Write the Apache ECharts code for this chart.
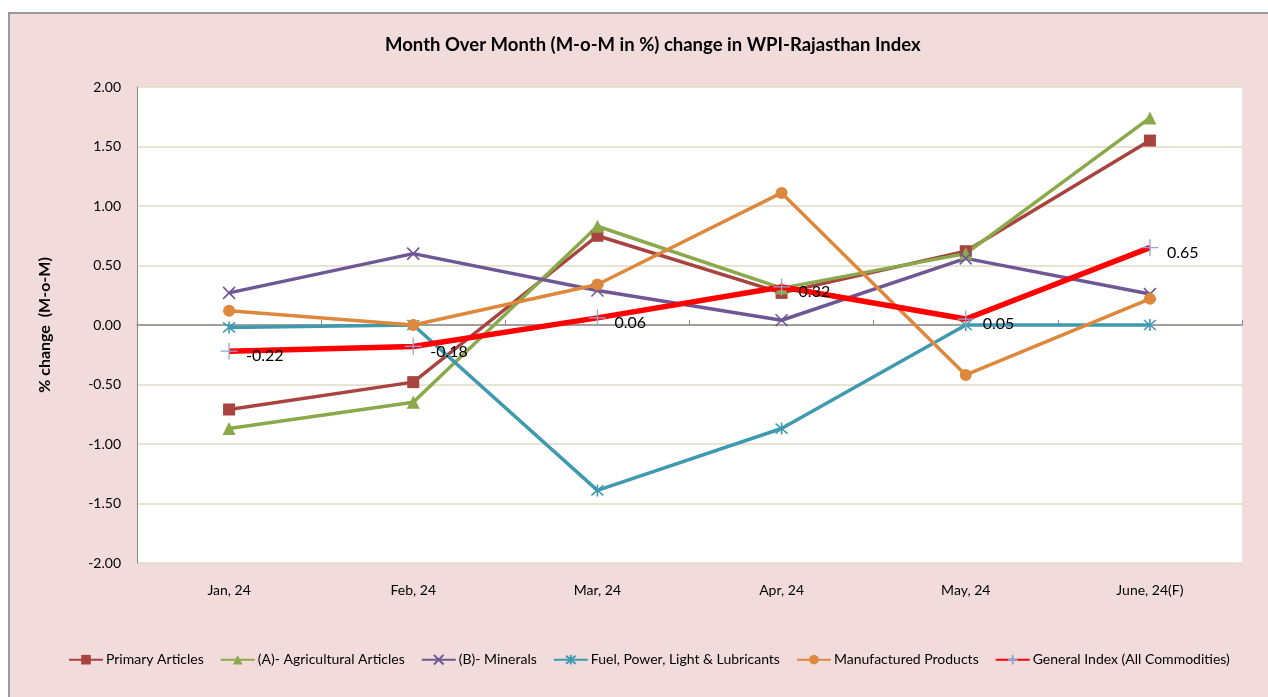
<!DOCTYPE html>
<html><head><meta charset="utf-8">
<script src="https://cdn.jsdelivr.net/npm/echarts@6/dist/echarts.min.js"></script>
<style>
html,body{margin:0;padding:0;background:#fff;overflow:hidden}
#frame{position:absolute;left:8px;top:12px;width:1300px;height:720px;border-top:2px solid #9a9a9a;border-left:2px solid #9a9a9a;background:#f2dcdb}
#c{position:absolute;left:0;top:0;width:1268px;height:697px}
</style></head><body>
<div id="frame"></div>
<div id="c"></div>
<script>
const categories = ['Jan, 24','Feb, 24','Mar, 24','Apr, 24','May, 24','June, 24(F)'];
const primaryArticles = [-0.71, -0.48, 0.75, 0.27, 0.62, 1.55];
const agriculturalArticles = [-0.87, -0.65, 0.83, 0.31, 0.60, 1.74];
const minerals = [0.27, 0.60, 0.29, 0.04, 0.56, 0.26];
const fuelPower = [-0.02, 0.00, -1.39, -0.87, 0.00, 0.00];
const manufactured = [0.12, 0.00, 0.34, 1.11, -0.42, 0.22];
const generalIndex = [-0.22, -0.18, 0.06, 0.32, 0.05, 0.65];
const yTicks = [-2, -1.5, -1, -0.5, 0, 0.5, 1, 1.5, 2];

const FONT = 'Lato';
const chart = echarts.init(document.getElementById('c'), null, {renderer:'canvas'});
const xPath = 'path://M0,0L10,10M10,0L0,10';
const starPath = 'path://M0,0L10,10M10,0L0,10M5,-1L5,11';
const plusPath = 'path://M5,0L5,10M0,5L10,5';

function mk(name, data, color, symbol, size, extra) {
  return Object.assign({
    name, type:'line', data, xAxisIndex:0,
    symbol, symbolSize:size,
    lineStyle:{color, width:3.5},
    itemStyle:{color},
    z:2
  }, extra||{});
}
const series = [
  mk('Primary Articles', primaryArticles, '#a84340', 'rect', 12),
  mk('(A)- Agricultural Articles', agriculturalArticles, '#89a94a', 'triangle', 13),
  mk('(B)- Minerals', minerals, '#6f5795', xPath, 12, {itemStyle:{color:'none', borderColor:'#6f5795', borderWidth:1.6}}),
  mk('Fuel, Power, Light & Lubricants', fuelPower, '#3f9ab0', starPath, 12, {itemStyle:{color:'none', borderColor:'#3f9ab0', borderWidth:1.6}}),
  mk('Manufactured Products', manufactured, '#dd883d', 'circle', 12),
  mk('General Index (All Commodities)', generalIndex, '#ff0000', plusPath, 17, {
    lineStyle:{color:'#ff0000', width:5.5},
    itemStyle:{color:'none', borderColor:'#8fa7d6', borderWidth:1.3},
    z:5,
    label:{show:true, position:'right', distance:6, offset:[0,5], color:'#000', fontFamily:FONT, fontSize:16,
      formatter:p=>p.value.toFixed(2)}
  })
];

chart.setOption({
  backgroundColor:'transparent',
  animation:false,
  title:{text:'Month Over Month (M-o-M in %) change in WPI-Rajasthan Index', left:380, top:31,
    textStyle:{fontFamily:FONT, fontWeight:'bold', fontSize:18.5, color:'#000'}},
  grid:{left:137, right:26, top:87, bottom:134, backgroundColor:'#fff', show:true, borderWidth:0},
  legend:{bottom:25, left:63, itemWidth:34, itemHeight:12, itemGap:16,
    textStyle:{fontFamily:FONT, fontSize:14, color:'#000', padding:[0,0,0,-2]},
    data:series.map(s=>s.name)},
  xAxis:[
    {type:'category', data:categories, position:'bottom', boundaryGap:true,
      axisLine:{show:false, onZero:false}, axisTick:{show:false},
      axisLabel:{fontFamily:FONT, fontSize:14, color:'#000', margin:20}},
    {type:'category', data:categories, position:'bottom', boundaryGap:true,
      axisLine:{show:true, onZero:true, lineStyle:{color:'#888', width:1.5}},
      axisTick:{show:true, inside:true, length:5, lineStyle:{color:'#888'}},
      axisLabel:{show:false}}
  ],
  yAxis:{type:'value', min:-2, max:2, interval:0.5,
    name:'% change  (M-o-M)', nameLocation:'middle', nameGap:84, nameRotate:90,
    nameTextStyle:{fontFamily:FONT, fontWeight:'bold', fontSize:16, color:'#000'},
    axisLine:{show:true, lineStyle:{color:'#888'}}, axisTick:{show:false},
    axisLabel:{fontFamily:FONT, fontSize:14, color:'#000', margin:16, formatter:v=>v.toFixed(2)},
    splitLine:{show:true, lineStyle:{color:'#e0dbc6', width:1.5}}},
  series
});
</script>
</body></html>
